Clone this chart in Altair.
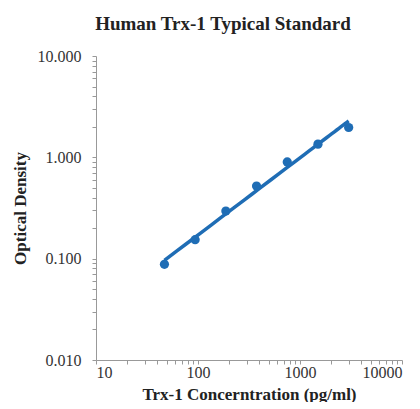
import altair as alt
import pandas as pd

conc = [46.88, 93.75, 187.5, 375, 750, 1500, 3000]
od = [0.088, 0.154, 0.295, 0.52, 0.90, 1.35, 1.97]

x_ticks = [10, 20, 30, 40, 50, 60, 70, 80, 90, 100, 200, 300, 400, 500, 600, 700, 800, 900,
           1000, 2000, 3000, 4000, 5000, 6000, 7000, 8000, 9000, 10000]
y_ticks = [0.01, 0.02, 0.03, 0.04, 0.05, 0.06, 0.07, 0.08, 0.09, 0.1, 0.2, 0.3, 0.4, 0.5, 0.6,
           0.7, 0.8, 0.9, 1, 2, 3, 4, 5, 6, 7, 8, 9, 10]
x_major = ["10", "100", "1000", "10000"]
y_major = ["0.010", "0.100", "1.000", "10.000"]

df = pd.DataFrame({"conc": conc, "od": od})
blue = "#1f6db5"
font = "Liberation Serif"

x = alt.X("conc:Q", scale=alt.Scale(type="log", domain=[10, 10000]),
          axis=alt.Axis(values=x_ticks, format="d",
                        labelExpr="indexof(%s, datum.label) >= 0 ? datum.label : ''" % str(x_major),
                        title="Trx-1 Concerntration (pg/ml)", grid=False, tickSize=4,
                        labelPadding=0, titlePadding=6))
y = alt.Y("od:Q", scale=alt.Scale(type="log", domain=[0.01, 10]),
          axis=alt.Axis(values=y_ticks, format=".3f",
                        labelExpr="indexof(%s, datum.label) >= 0 ? datum.label : ''" % str(y_major),
                        title="Optical Density", grid=False, tickSize=4,
                        labelPadding=11, titlePadding=8))

pts = alt.Chart(df).mark_circle(size=85, color=blue, opacity=1).encode(x=x, y=y)
fit = alt.Chart(df).transform_regression("conc", "od", method="pow").mark_line(
    color=blue, strokeWidth=3.5).encode(x=x, y=y)

chart = (fit + pts).properties(
    width=306, height=304,
    padding={"left": 3, "top": 7, "right": 5, "bottom": 0},
    title=alt.TitleParams("Human Trx-1 Typical Standard", fontSize=19, font=font,
                          fontWeight="bold", color="#222", dx=-26, offset=14),
).configure_view(stroke=None).configure_axis(
    labelFont=font, titleFont=font, labelFontSize=16, titleFontSize=17,
    titleFontWeight="bold", labelColor="#333", titleColor="#222",
    domainColor="#999", tickColor="#999",
)

chart.save("out.html", embed_options={"renderer": "svg", "actions": False})
